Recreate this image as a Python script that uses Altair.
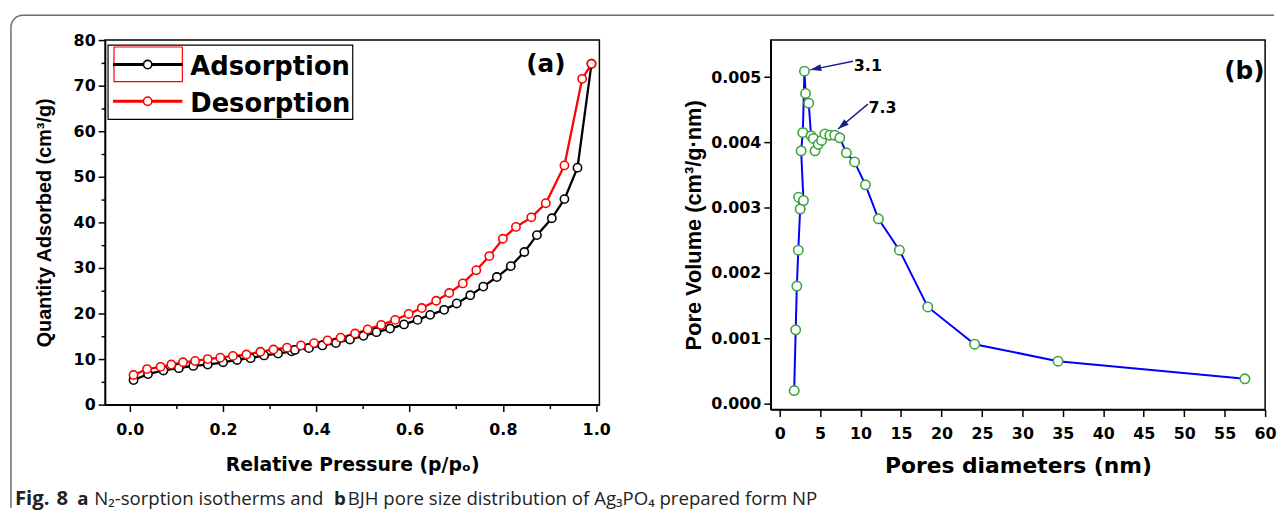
import math
import altair as alt
import pandas as pd

# ---------------- data ----------------
ads_p = [0.008, 0.039, 0.072, 0.105, 0.136, 0.167, 0.200, 0.230, 0.259, 0.288,
         0.318, 0.347, 0.354, 0.384, 0.413, 0.442, 0.472, 0.501, 0.529, 0.558,
         0.588, 0.617, 0.644, 0.674, 0.701, 0.730, 0.758, 0.787, 0.817, 0.846,
         0.873, 0.905, 0.932, 0.960, 0.990]
ads_q = [5.4, 6.7, 7.5, 8.0, 8.5, 8.8, 9.3, 9.8, 10.2, 10.8,
         11.2, 11.7, 12.0, 12.4, 13.0, 13.5, 14.3, 15.1, 15.9, 16.7,
         17.6, 18.6, 19.7, 20.8, 22.2, 24.0, 25.9, 28.0, 30.4, 33.5,
         37.2, 40.9, 45.1, 52.0, 74.8]
des_p = [0.008, 0.037, 0.066, 0.089, 0.114, 0.140, 0.167, 0.194, 0.221, 0.250,
         0.280, 0.308, 0.337, 0.367, 0.395, 0.424, 0.452, 0.483, 0.510, 0.539,
         0.569, 0.598, 0.626, 0.657, 0.685, 0.714, 0.743, 0.771, 0.800, 0.828,
         0.861, 0.892, 0.932, 0.970, 0.990]
des_q = [6.5, 7.8, 8.3, 8.8, 9.3, 9.6, 10.0, 10.3, 10.7, 11.0,
         11.6, 12.1, 12.5, 13.0, 13.5, 14.1, 14.7, 15.6, 16.5, 17.5,
         18.6, 19.9, 21.2, 22.8, 24.5, 26.6, 29.5, 32.6, 36.4, 39.0,
         41.1, 44.2, 52.5, 71.5, 74.8]

pore_d = [1.79, 1.98, 2.12, 2.30, 2.53, 2.33, 2.94, 2.65, 2.86, 3.06,
          3.20, 3.59, 3.88, 4.16, 4.37, 4.77, 5.18, 5.59, 6.20, 6.80,
          7.43, 8.24, 9.26, 10.6, 12.2, 14.8, 18.3, 24.1, 34.4, 57.5]
pore_v = [0.00020, 0.00113, 0.00180, 0.00235, 0.00298, 0.00316, 0.00311, 0.00387, 0.00415, 0.00509,
          0.00475, 0.00460, 0.00410, 0.00406, 0.00387, 0.00397, 0.00403, 0.00413, 0.00411, 0.00411,
          0.00407, 0.00384, 0.00370, 0.00335, 0.00283, 0.00235, 0.00148, 0.00091, 0.00065, 0.00038]

peak_text = ["3.1", "7.3"]
peak_text_d = [10.9, 12.7]
peak_text_v = [0.00517, 0.00452]
arrow_tail_d = [9.06, 10.9]
arrow_tail_v = [0.005243, 0.004585]
arrow_head_d = [3.79, 7.22]
arrow_head_v = [0.00511, 0.004205]
arrow_angle = [258.6, 230.2]

left_xticks = [round(i * 0.1, 1) for i in range(11)]
left_yticks = list(range(0, 81, 5))
right_xticks = [i * 2.5 for i in range(25)]
right_yticks = [round(i * 0.0005, 4) for i in range(11)]

series_names = ["Adsorption", "Desorption"]
caption_parts = ["Fig.", "8", "a", "N\u2082-sorption isotherms and", "b",
                 "BJH pore size distribution of Ag\u2083PO\u2084 prepared form NP"]
caption_bold = [True, True, True, False, True, False]
caption_size = [20.5, 20.5, 18.8, 18.8, 18.8, 18.8]
caption_x = [-91, -49, -28, -11, 231, 245]

# ---------------- styling ----------------
FH = "DejaVu Sans"
FV = "Liberation Sans"
BORDER = "#6b6b6b"

iso = pd.concat([
    pd.DataFrame({"p": ads_p, "q": ads_q, "s": series_names[0], "i": range(len(ads_p))}),
    pd.DataFrame({"p": des_p, "q": des_q, "s": series_names[1], "i": range(len(des_p))}),
])
pore = pd.DataFrame({"d": pore_d, "v": pore_v, "i": range(len(pore_d))})
one = pd.DataFrame({"k": [0]})


def tick_cond(test, big=7, small=4):
    return {"condition": {"test": test, "value": big}, "value": small}


lx = alt.X("p:Q", scale=alt.Scale(domain=[-0.0531, 1.007], nice=False, zero=False),
           axis=alt.Axis(values=left_xticks, format=".1f", labelFlush=False,
                         labelExpr="round(datum.value*10)%2==0 ? format(datum.value,'.1f') : ''",
                         tickSize=tick_cond("round(datum.value*10)%2==0"),
                         title="Relative Pressure (p/p\u2092)", titleFont=FH, titleFontSize=19,
                         titlePadding=18, labelPadding=10))
ly = alt.Y("q:Q", scale=alt.Scale(domain=[0, 80], nice=False, zero=False),
           axis=alt.Axis(values=left_yticks, format="d", labelFlush=False,
                         labelExpr="datum.value%10==0 ? datum.label : ''",
                         tickSize=tick_cond("datum.value%10==0"),
                         title="Quantity Adsorbed (cm\u00b3/g)", titleFont=FV, titleFontSize=20,
                         titlePadding=19, labelPadding=3))
col = alt.Color("s:N", scale=alt.Scale(domain=series_names, range=["black", "red"]), legend=None)

base_iso = alt.Chart(iso)
iso_lines = base_iso.mark_line(strokeWidth=2.3).encode(x=lx, y=ly, color=col, order="i:Q", detail="s:N")
iso_pts = base_iso.mark_point(shape="circle", filled=False, fill="white", size=70,
                              strokeWidth=1.6, opacity=1).encode(x=lx, y=ly, color=col)

b = alt.Chart(one)
legend_layers = [
    b.mark_rect(fill="white", stroke="black", strokeWidth=1.2).encode(
        x=alt.value(3), x2=alt.value(250), y=alt.value(5), y2=alt.value(80)),
    b.mark_rect(fill="white", stroke="red", strokeWidth=1.2).encode(
        x=alt.value(9), x2=alt.value(78), y=alt.value(7), y2=alt.value(42)),
    b.mark_rule(color="black", strokeWidth=3).encode(
        x=alt.value(8), x2=alt.value(78), y=alt.value(24.7)),
    b.mark_rule(color="red", strokeWidth=3).encode(
        x=alt.value(8), x2=alt.value(78), y=alt.value(61.7)),
    b.mark_point(shape="circle", filled=False, fill="white", stroke="black", size=70,
                 strokeWidth=1.6, opacity=1).encode(x=alt.value(43), y=alt.value(24.7)),
    b.mark_point(shape="circle", filled=False, fill="white", stroke="red", size=70,
                 strokeWidth=1.6, opacity=1).encode(x=alt.value(43), y=alt.value(61.7)),
    b.mark_text(text=series_names[0], font=FH, fontSize=26, fontWeight="bold", align="left",
                baseline="alphabetic", color="black").encode(x=alt.value(86), y=alt.value(35.7)),
    b.mark_text(text=series_names[1], font=FH, fontSize=26, fontWeight="bold", align="left",
                baseline="alphabetic", color="black").encode(x=alt.value(86), y=alt.value(73)),
    b.mark_text(text="(a)", font=FH, fontSize=25, fontWeight="bold", align="center",
                baseline="middle", color="black").encode(x=alt.value(445), y=alt.value(24)),
]

border_layers = [
    b.mark_rule(color=BORDER, strokeWidth=1.5).encode(
        x=alt.value(-83), x2=alt.value(1180), y=alt.value(-25)),
    b.mark_rule(color=BORDER, strokeWidth=1.5).encode(
        x=alt.value(-95), y=alt.value(-13), y2=alt.value(472)),
    b.mark_arc(theta=1.5 * math.pi, theta2=2 * math.pi, radius=12.75, radius2=11.25,
               color=BORDER).encode(x=alt.value(-83), y=alt.value(-13)),
]

caption_layers = []
for txt, bold, fs, xx in zip(caption_parts, caption_bold, caption_size, caption_x):
    caption_layers.append(
        b.mark_text(text=txt, font="Open Sans", fontSize=fs,
                    fontWeight="bold" if bold else "normal", align="left",
                    baseline="alphabetic", color="#222222").encode(x=alt.value(xx), y=alt.value(469)))

left = alt.layer(*border_layers, iso_lines, iso_pts, *legend_layers, *caption_layers).properties(
    width=499, height=368)

# ---------------- right panel ----------------
rx = alt.X("d:Q", scale=alt.Scale(domain=[-1.10, 60.0], nice=False, zero=False),
           axis=alt.Axis(values=right_xticks, labelFlush=False,
                         labelExpr="datum.value%5==0 ? datum.label : ''",
                         tickSize=tick_cond("datum.value%5==0"),
                         title="Pores diameters (nm)", titleFont=FH, titleFontSize=22,
                         titlePadding=15, labelPadding=9))
ry = alt.Y("v:Q", scale=alt.Scale(domain=[-0.000091, 0.005566], nice=False, zero=False),
           axis=alt.Axis(values=right_yticks, format=".3f", labelFlush=False,
                         labelExpr="round(datum.value*2000)%2==0 ? format(datum.value,'.3f') : ''",
                         tickSize=tick_cond("round(datum.value*2000)%2==0"),
                         title="Pore Volume (cm\u00b3/g\u00b7nm)", titleFont=FV, titleFontSize=22,
                         titlePadding=5, labelPadding=3))

bp = alt.Chart(pore)
p_line = bp.mark_line(color="#0000ff", strokeWidth=2).encode(x=rx, y=ry, order="i:Q")
p_pts = bp.mark_point(shape="circle", filled=False, fill="white", stroke="#3fa23f", size=90,
                      strokeWidth=1.6, opacity=1).encode(x=rx, y=ry)

ann = pd.DataFrame({"t": peak_text, "td": peak_text_d, "tv": peak_text_v,
                    "d0": arrow_tail_d, "v0": arrow_tail_v,
                    "d1": arrow_head_d, "v1": arrow_head_v, "ang": arrow_angle})
ba = alt.Chart(ann)
ax_plain = dict(scale=alt.Scale(domain=[-1.10, 60.0], nice=False, zero=False))
ay_plain = dict(scale=alt.Scale(domain=[-0.000091, 0.005566], nice=False, zero=False))
shafts = ba.mark_rule(color="#1c1c8c", strokeWidth=1.5).encode(
    x=alt.X("d0:Q", **ax_plain), y=alt.Y("v0:Q", **ay_plain), x2="d1:Q", y2="v1:Q")
heads = ba.mark_point(shape="M0,0 L-0.7,2.2 L0.7,2.2 Z", filled=True, color="#1c1c8c",
                      size=100, opacity=1).encode(
    x=alt.X("d1:Q", **ax_plain), y=alt.Y("v1:Q", **ay_plain),
    angle=alt.Angle("ang:Q", scale=None))
labels = ba.mark_text(font=FH, fontSize=16, fontWeight="bold", color="black",
                      align="center", baseline="middle").encode(
    x=alt.X("td:Q", **ax_plain), y=alt.Y("tv:Q", **ay_plain), text="t:N")
btag = alt.Chart(one).mark_text(text="(b)", font=FH, fontSize=25, fontWeight="bold",
                                align="center", baseline="middle", color="black").encode(
    x=alt.value(478), y=alt.value(31))

right = alt.layer(p_line, shafts, heads, p_pts, labels, btag).properties(width=499, height=373)

chart = alt.hconcat(left, right, spacing=173, bounds="flush").properties(
    padding={"left": 1, "top": 3, "right": 0, "bottom": 0}, background="white"
).configure_view(stroke="black", strokeWidth=1.5).configure_axis(
    grid=False, domainColor="black", domainWidth=1.5, tickColor="black", tickWidth=1.5,
    labelFont=FH, labelFontSize=16, labelFontWeight="bold", labelColor="black",
    titleFontWeight="bold", titleColor="black"
)

chart.save("out.html", embed_options={"renderer": "svg", "actions": False})
